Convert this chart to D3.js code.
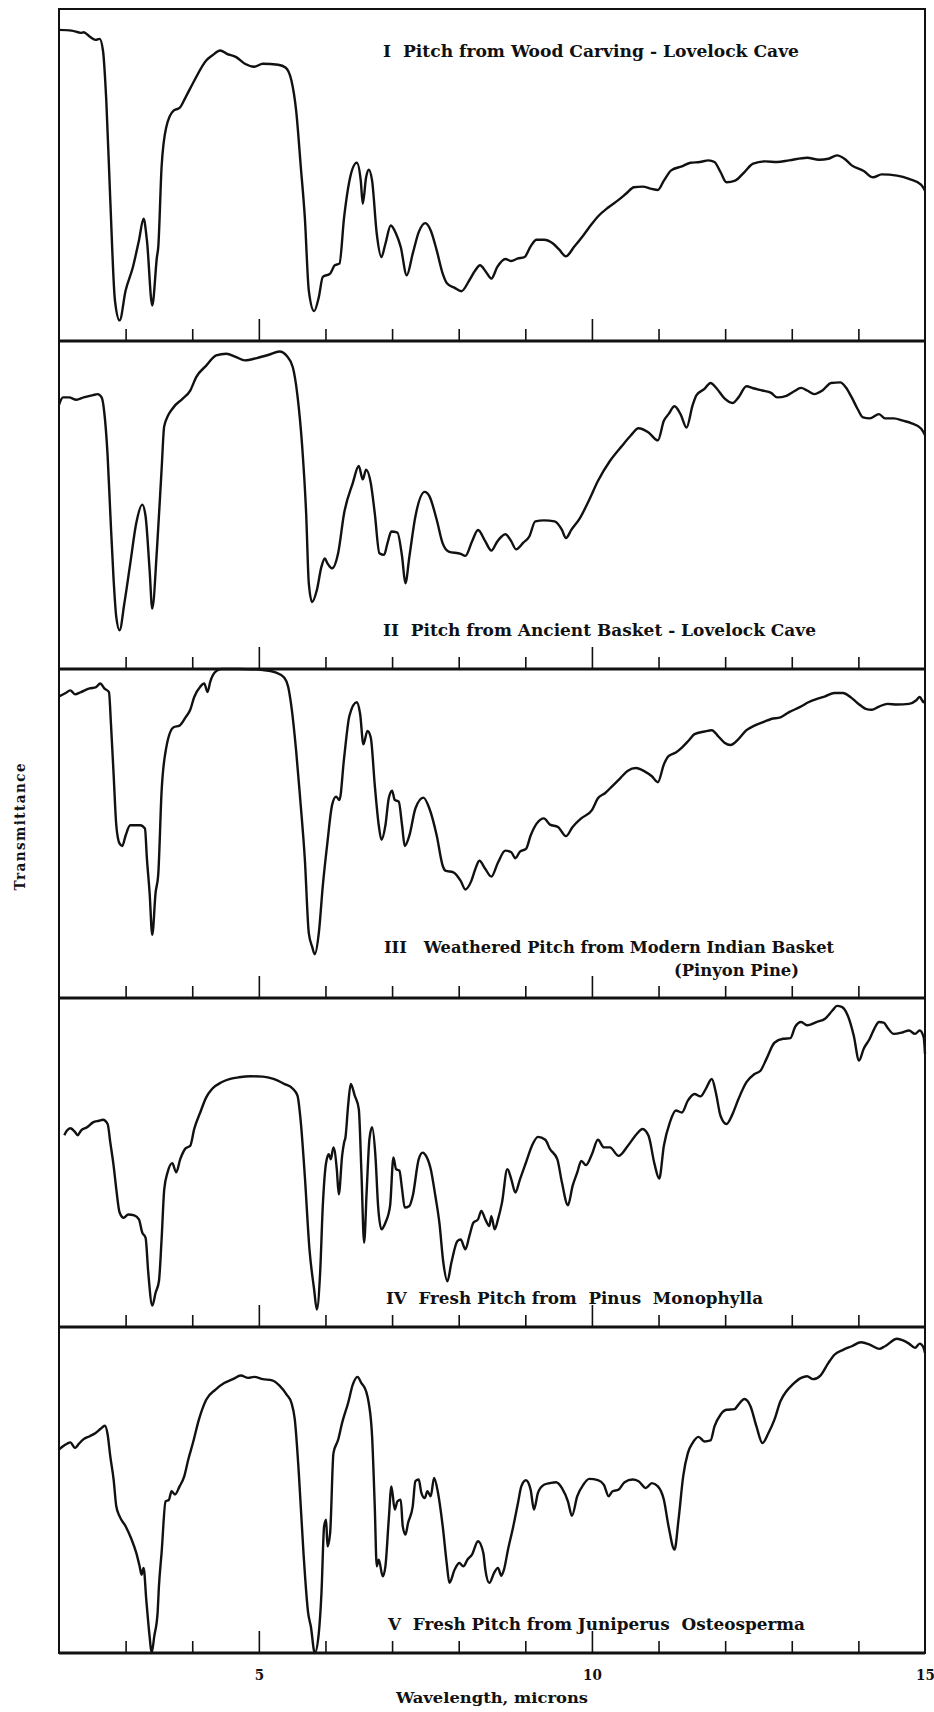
<!DOCTYPE html>
<html>
<head>
<script src="https://d3js.org/d3.v7.min.js"></script>
<style>
  body { margin: 0; background: #fff; }
  svg text {
    font-family: "DejaVu Serif Condensed", "DejaVu Serif", serif;
    font-weight: bold;
    fill: #111;
    white-space: pre;
  }
</style>
</head>
<body>
<div id="chart"></div>
<script>
// [wavelength (microns), transmittance (% of panel height)]
var spectrumI = [[2.0,93.7],[2.19,93.5],[2.33,92.8],[2.37,93.0],[2.46,91.7],[2.55,90.7],[2.61,91.0],[2.66,87.5],[2.71,72.4],[2.77,42.3],[2.84,12.2],[2.91,6.2],[3.0,15.2],[3.11,22.3],[3.2,30.3],[3.27,36.8],[3.32,30.3],[3.4,10.7],[3.47,25.3],[3.49,28.3],[3.54,52.4],[3.61,64.4],[3.72,69.4],[3.81,70.2],[3.9,73.4],[4.03,78.4],[4.21,84.5],[4.3,86.0],[4.42,87.5],[4.52,86.5],[4.66,85.5],[4.79,83.5],[4.93,82.6],[5.06,83.5],[5.29,83.2],[5.4,82.4],[5.49,78.4],[5.56,69.4],[5.63,52.4],[5.69,37.3],[5.75,15.2],[5.83,9.0],[5.9,13.2],[5.96,19.3],[6.07,20.3],[6.14,22.8],[6.21,23.3],[6.28,37.3],[6.36,48.3],[6.47,53.7],[6.53,48.3],[6.56,41.3],[6.61,49.3],[6.65,51.6],[6.7,48.3],[6.77,32.3],[6.84,25.3],[6.9,29.3],[6.98,34.8],[7.06,32.3],[7.13,28.3],[7.22,19.8],[7.31,26.3],[7.4,32.8],[7.5,35.5],[7.58,33.3],[7.67,27.3],[7.76,20.3],[7.82,17.5],[7.94,16.0],[8.04,15.0],[8.16,18.3],[8.25,21.3],[8.32,22.8],[8.41,20.8],[8.49,18.8],[8.58,22.3],[8.7,24.7],[8.79,24.1],[8.88,24.8],[8.99,25.3],[9.08,28.5],[9.17,30.5],[9.28,30.5],[9.42,29.3],[9.51,27.5],[9.61,25.5],[9.73,28.3],[9.87,31.8],[10.0,35.3],[10.09,37.5],[10.25,40.3],[10.4,42.5],[10.52,44.5],[10.63,46.3],[10.76,46.5],[10.9,45.8],[10.99,45.5],[11.08,48.3],[11.19,51.4],[11.35,52.6],[11.48,53.7],[11.62,53.9],[11.75,54.4],[11.84,53.9],[11.93,50.9],[12.02,47.8],[12.15,48.3],[12.29,50.9],[12.42,53.4],[12.6,54.1],[12.78,53.9],[12.96,54.4],[13.23,55.2],[13.41,54.6],[13.55,54.9],[13.68,55.9],[13.79,54.9],[13.9,52.9],[14.08,51.2],[14.22,49.3],[14.35,50.2],[14.58,49.8],[14.76,48.8],[14.94,47.1],[15.0,45.3]];

var spectrumII = [[2.0,80.5],[2.06,82.8],[2.15,82.8],[2.26,82.1],[2.37,82.8],[2.51,83.5],[2.58,83.8],[2.64,82.8],[2.68,78.2],[2.73,64.9],[2.77,47.5],[2.82,27.1],[2.86,15.8],[2.91,11.8],[2.98,19.9],[3.07,32.2],[3.16,44.5],[3.25,50.1],[3.3,46.5],[3.36,30.2],[3.4,18.4],[3.47,36.3],[3.54,60.8],[3.58,74.1],[3.72,79.8],[3.85,82.3],[3.97,84.9],[4.06,89.0],[4.21,92.5],[4.36,95.6],[4.51,96.1],[4.66,95.1],[4.79,94.1],[4.97,94.8],[5.15,95.8],[5.31,96.8],[5.42,95.4],[5.51,92.0],[5.58,83.3],[5.65,68.0],[5.71,47.5],[5.75,26.1],[5.8,20.4],[5.87,24.0],[5.94,31.2],[5.99,33.7],[6.03,32.2],[6.1,30.7],[6.19,35.3],[6.28,47.5],[6.41,56.7],[6.5,61.9],[6.56,57.8],[6.61,60.8],[6.68,56.7],[6.74,47.5],[6.81,35.3],[6.88,34.8],[6.93,38.3],[6.99,41.9],[7.08,41.6],[7.15,34.3],[7.2,26.1],[7.26,34.3],[7.35,46.5],[7.49,54.0],[7.56,52.7],[7.67,45.5],[7.76,38.3],[7.85,35.8],[8.03,35.1],[8.1,34.5],[8.2,38.9],[8.29,42.4],[8.4,38.9],[8.49,36.1],[8.58,38.9],[8.7,41.1],[8.79,38.9],[8.86,36.5],[8.97,38.5],[9.06,40.4],[9.15,45.0],[9.28,45.3],[9.44,45.0],[9.55,42.4],[9.61,39.9],[9.69,42.4],[9.82,46.0],[9.96,51.6],[10.09,57.3],[10.27,63.4],[10.45,68.0],[10.58,71.1],[10.7,73.4],[10.85,72.1],[10.99,69.7],[11.08,75.7],[11.15,77.7],[11.24,80.1],[11.33,77.7],[11.42,73.6],[11.51,80.3],[11.57,83.5],[11.69,85.4],[11.78,87.2],[11.87,85.6],[11.99,82.5],[12.11,81.1],[12.2,82.8],[12.32,86.2],[12.42,85.6],[12.56,84.9],[12.69,84.2],[12.78,82.8],[12.92,83.3],[13.03,84.6],[13.14,85.7],[13.23,84.9],[13.34,83.8],[13.46,84.9],[13.59,87.2],[13.73,87.4],[13.81,85.9],[13.9,82.8],[13.99,79.2],[14.07,76.7],[14.17,76.4],[14.31,77.7],[14.4,76.4],[14.53,76.4],[14.67,75.7],[14.8,74.9],[14.94,73.3],[15.0,71.3]];

var spectrumIII = [[2.0,91.7],[2.1,92.7],[2.17,93.5],[2.24,92.3],[2.33,93.0],[2.46,94.1],[2.55,94.4],[2.62,95.6],[2.68,94.1],[2.75,93.0],[2.78,83.3],[2.82,67.9],[2.86,52.5],[2.91,46.9],[2.95,46.2],[3.0,49.4],[3.07,52.5],[3.22,52.5],[3.29,51.5],[3.32,42.3],[3.36,32.0],[3.4,19.2],[3.45,32.0],[3.49,37.6],[3.54,62.8],[3.61,76.1],[3.72,82.3],[3.81,82.8],[3.9,85.3],[3.97,87.6],[4.03,91.5],[4.12,94.6],[4.18,95.6],[4.23,93.0],[4.27,96.1],[4.35,99.2],[4.44,100],[4.7,100],[5.06,99.7],[5.26,98.9],[5.38,97.4],[5.44,94.6],[5.49,88.4],[5.56,75.1],[5.62,60.7],[5.69,42.3],[5.75,19.7],[5.8,15.6],[5.84,13.3],[5.9,19.7],[5.96,34.1],[6.03,47.4],[6.1,58.7],[6.16,61.2],[6.21,60.2],[6.28,73.0],[6.36,85.8],[6.47,89.9],[6.52,86.4],[6.57,77.1],[6.63,81.2],[6.68,79.2],[6.74,64.8],[6.8,52.5],[6.84,48.1],[6.9,52.5],[6.95,60.7],[7.0,63.0],[7.04,60.2],[7.1,59.7],[7.15,52.5],[7.19,46.2],[7.26,49.4],[7.35,57.6],[7.47,60.9],[7.56,57.6],[7.67,49.4],[7.76,40.2],[7.8,38.7],[7.92,38.2],[8.03,35.6],[8.1,33.0],[8.19,35.6],[8.25,39.2],[8.31,41.7],[8.4,39.2],[8.49,36.9],[8.59,41.2],[8.7,44.8],[8.79,44.3],[8.85,42.5],[8.92,44.5],[9.01,45.3],[9.08,49.4],[9.17,53.0],[9.28,54.6],[9.37,52.7],[9.49,52.0],[9.61,49.2],[9.71,52.0],[9.84,54.6],[10.0,57.1],[10.09,60.7],[10.2,62.3],[10.31,64.5],[10.43,66.9],[10.54,69.1],[10.66,69.9],[10.79,68.9],[10.9,67.4],[10.99,65.6],[11.08,71.0],[11.15,73.5],[11.26,74.6],[11.35,76.1],[11.45,78.2],[11.54,80.2],[11.69,81.0],[11.8,81.4],[11.89,79.7],[11.99,77.6],[12.08,76.9],[12.2,78.7],[12.32,81.4],[12.44,82.8],[12.59,84.0],[12.69,84.8],[12.83,85.3],[12.96,86.9],[13.12,88.4],[13.25,89.9],[13.39,91.0],[13.5,91.7],[13.64,92.7],[13.77,92.7],[13.88,91.5],[13.99,89.6],[14.11,87.9],[14.2,87.6],[14.31,88.6],[14.44,89.4],[14.58,89.2],[14.76,89.4],[14.87,90.5],[14.92,91.5],[14.98,89.9],[15.0,90.5]];

var spectrumIV = [[2.08,58.3],[2.12,59.7],[2.17,60.4],[2.24,59.3],[2.28,58.3],[2.33,59.7],[2.42,60.7],[2.51,62.2],[2.6,62.7],[2.66,63.0],[2.73,61.7],[2.77,56.1],[2.82,49.0],[2.86,41.9],[2.91,34.8],[2.97,33.2],[3.04,34.2],[3.13,33.9],[3.2,32.7],[3.25,28.7],[3.3,27.1],[3.34,16.5],[3.4,6.5],[3.45,10.4],[3.5,13.9],[3.54,26.6],[3.58,41.9],[3.63,47.0],[3.7,49.8],[3.76,47.0],[3.82,51.0],[3.9,54.3],[3.97,55.1],[4.03,60.2],[4.12,65.2],[4.21,69.8],[4.3,72.4],[4.44,74.4],[4.57,75.4],[4.7,75.9],[4.88,76.2],[5.06,76.1],[5.22,75.4],[5.38,73.9],[5.51,72.4],[5.58,70.3],[5.63,62.2],[5.69,45.9],[5.76,23.6],[5.83,11.4],[5.87,5.3],[5.92,16.5],[5.96,36.8],[6.01,50.0],[6.05,52.5],[6.08,51.0],[6.12,54.6],[6.17,48.0],[6.2,40.3],[6.25,52.0],[6.28,56.1],[6.3,57.6],[6.34,67.3],[6.38,73.9],[6.44,70.3],[6.5,66.3],[6.54,47.0],[6.58,25.6],[6.62,41.9],[6.66,57.1],[6.7,60.7],[6.75,52.0],[6.79,36.8],[6.84,29.7],[6.9,31.7],[6.97,36.8],[7.02,51.5],[7.06,48.0],[7.11,47.5],[7.15,41.9],[7.19,36.3],[7.26,36.8],[7.31,39.8],[7.4,51.0],[7.46,53.0],[7.51,52.0],[7.58,48.0],[7.65,39.8],[7.71,31.7],[7.77,19.5],[7.83,13.9],[7.89,19.5],[7.98,26.1],[8.03,26.6],[8.1,23.6],[8.16,27.6],[8.22,31.7],[8.29,32.7],[8.34,35.3],[8.4,32.7],[8.46,30.7],[8.49,33.7],[8.54,29.7],[8.59,32.7],[8.65,37.8],[8.73,48.0],[8.79,44.9],[8.85,40.9],[8.92,44.9],[9.01,50.0],[9.1,55.1],[9.19,57.8],[9.3,56.9],[9.37,54.1],[9.48,51.0],[9.55,43.9],[9.64,37.0],[9.71,42.9],[9.78,47.0],[9.84,50.5],[9.91,49.2],[10.0,52.5],[10.09,56.9],[10.18,54.6],[10.27,54.6],[10.4,52.0],[10.54,55.1],[10.67,58.6],[10.76,60.2],[10.85,58.1],[10.94,49.5],[11.01,45.1],[11.08,55.1],[11.17,62.2],[11.26,65.8],[11.35,65.2],[11.44,68.8],[11.54,70.8],[11.63,70.1],[11.71,72.4],[11.8,75.4],[11.86,71.3],[11.93,64.2],[12.02,61.7],[12.11,64.7],[12.2,69.3],[12.32,74.4],[12.44,76.9],[12.53,77.9],[12.62,81.5],[12.74,86.4],[12.87,87.6],[12.98,87.8],[13.05,91.2],[13.14,92.7],[13.23,91.7],[13.37,92.7],[13.5,93.7],[13.61,96.2],[13.68,97.6],[13.75,97.3],[13.84,94.7],[13.93,88.6],[14.01,81.0],[14.08,84.6],[14.17,87.6],[14.24,90.7],[14.31,92.7],[14.38,92.5],[14.44,90.9],[14.53,89.1],[14.67,89.6],[14.76,90.1],[14.85,89.1],[14.92,90.1],[14.98,88.1],[15.0,83.0]];

var spectrumV = [[2.0,62.4],[2.06,63.4],[2.12,64.2],[2.17,64.6],[2.24,62.9],[2.3,64.2],[2.37,65.6],[2.46,66.5],[2.55,67.5],[2.62,68.7],[2.69,69.7],[2.73,67.0],[2.77,60.3],[2.82,53.2],[2.86,45.0],[2.91,41.9],[3.0,38.9],[3.09,34.8],[3.16,30.7],[3.21,26.6],[3.24,24.0],[3.27,26.1],[3.31,16.4],[3.36,5.1],[3.39,0],[3.43,5.1],[3.48,12.3],[3.5,20.4],[3.54,30.7],[3.6,46.5],[3.65,47.0],[3.69,49.6],[3.74,48.6],[3.81,51.1],[3.88,54.2],[3.94,59.3],[4.01,64.4],[4.1,71.6],[4.21,77.7],[4.35,80.8],[4.48,82.8],[4.61,84.0],[4.73,85.1],[4.84,84.4],[4.93,84.7],[5.06,84.0],[5.2,83.6],[5.31,82.0],[5.42,79.2],[5.49,76.7],[5.54,71.6],[5.6,55.2],[5.67,30.7],[5.74,12.3],[5.78,8.2],[5.84,0],[5.9,6.1],[5.94,18.4],[5.98,38.9],[6.01,40.9],[6.03,32.7],[6.07,36.8],[6.12,61.3],[6.19,65.4],[6.25,70.6],[6.34,76.7],[6.41,82.3],[6.48,84.7],[6.54,82.8],[6.61,80.3],[6.65,76.7],[6.7,66.5],[6.74,45.0],[6.77,26.6],[6.8,28.6],[6.86,23.5],[6.9,26.6],[6.95,40.9],[6.99,51.1],[7.04,44.0],[7.08,46.5],[7.13,47.0],[7.16,38.9],[7.2,36.3],[7.24,39.9],[7.31,45.0],[7.35,52.7],[7.4,53.2],[7.44,49.1],[7.49,47.5],[7.53,49.6],[7.58,48.1],[7.63,53.7],[7.69,49.1],[7.76,38.9],[7.82,27.6],[7.86,21.5],[7.94,25.6],[8.01,27.6],[8.07,26.6],[8.13,28.6],[8.2,30.2],[8.29,34.3],[8.37,30.7],[8.4,25.6],[8.46,21.5],[8.53,24.5],[8.59,26.1],[8.64,23.7],[8.68,25.6],[8.74,31.7],[8.82,38.9],[8.89,46.0],[8.94,51.1],[9.01,53.0],[9.08,50.1],[9.13,44.0],[9.19,49.1],[9.28,51.6],[9.37,52.1],[9.46,52.4],[9.55,50.6],[9.64,46.5],[9.7,42.1],[9.78,48.1],[9.87,51.6],[9.96,53.4],[10.09,53.0],[10.18,51.6],[10.25,48.1],[10.31,49.6],[10.4,50.1],[10.49,52.4],[10.61,53.2],[10.7,52.7],[10.81,50.6],[10.9,52.1],[10.99,51.1],[11.08,47.0],[11.15,38.9],[11.24,31.7],[11.3,40.9],[11.37,54.2],[11.44,61.3],[11.51,64.4],[11.6,66.3],[11.69,64.9],[11.78,65.2],[11.84,69.5],[11.93,73.1],[12.02,74.6],[12.14,74.8],[12.2,76.2],[12.29,77.9],[12.38,75.7],[12.47,69.5],[12.56,64.4],[12.65,67.5],[12.74,71.6],[12.83,77.2],[12.92,80.3],[13.01,82.3],[13.14,84.4],[13.23,84.9],[13.32,84.0],[13.43,85.1],[13.55,89.0],[13.64,91.5],[13.77,93.0],[13.9,94.1],[14.04,95.3],[14.17,94.6],[14.31,93.3],[14.4,94.1],[14.58,96.4],[14.67,95.9],[14.76,94.9],[14.85,93.6],[14.92,94.9],[14.98,93.6],[15.0,92.0]];

var spectra = [spectrumI, spectrumII, spectrumIII, spectrumIV, spectrumV];

var titles = [
  ["I  Pitch from Wood Carving - Lovelock Cave"],
  ["II  Pitch from Ancient Basket - Lovelock Cave"],
  ["III   Weathered Pitch from Modern Indian Basket", "(Pinyon Pine)"],
  ["IV  Fresh Pitch from  Pinus  Monophylla"],
  ["V  Fresh Pitch from Juniperus  Osteosperma"]
];

var minorTicks = [3, 4, 5, 6, 7, 8, 9, 10, 11, 12, 13, 14];
var majorTicks = [5, 10];
var tickLabels = [5, 10, 15];

// layout
var width = 934, height = 1712;
var panelEdges = [9, 341, 669, 998, 1327, 1653];
var titlePos = [
  [{x: 383, y: 57, w: 416}],
  [{x: 383, y: 636, w: 433}],
  [{x: 384, y: 953, w: 450}, {x: 674, y: 976, w: 125}],
  [{x: 386, y: 1304, w: 377}],
  [{x: 388, y: 1630, w: 417}]
];

var svg = d3.select("#chart").append("svg")
    .attr("width", width)
    .attr("height", height);

var x = d3.scaleLinear().domain([2, 15]).range([59, 925]);

spectra.forEach(function(data, i) {
    var y0 = panelEdges[i], y1 = panelEdges[i + 1];
    var y = d3.scaleLinear().domain([0, 100]).range([y1, y0]);

    var axis = d3.axisBottom(x)
        .tickValues(minorTicks)
        .tickSize(0)
        .tickFormat("");

    svg.append("g")
        .attr("transform", "translate(0," + y1 + ")")
        .call(axis)
        .call(function(g) { g.select(".domain").remove(); })
        .selectAll(".tick line")
        .attr("y2", function(d) { return majorTicks.indexOf(d) >= 0 ? -22 : -12; })
        .attr("stroke", "#111")
        .attr("stroke-width", 1.6);

    var line = d3.line()
        .x(function(d) { return x(d[0]); })
        .y(function(d) { return y(d[1]); })
        .curve(d3.curveMonotoneX);

    svg.append("path")
        .datum(data)
        .attr("d", line)
        .attr("fill", "none")
        .attr("stroke", "#111")
        .attr("stroke-width", 2.4)
        .attr("stroke-linejoin", "round");

    titles[i].forEach(function(t, j) {
        var p = titlePos[i][j];
        svg.append("text")
            .attr("x", p.x)
            .attr("y", p.y)
            .attr("textLength", p.w)
            .attr("lengthAdjust", "spacingAndGlyphs")
            .style("font-size", "16.5px")
            .text(t);
    });
});

// frame and dividers
svg.append("rect")
    .attr("x", x(2)).attr("y", panelEdges[0])
    .attr("width", x(15) - x(2)).attr("height", panelEdges[5] - panelEdges[0])
    .attr("fill", "none")
    .attr("stroke", "#111")
    .attr("stroke-width", 2);

svg.selectAll(".divider")
    .data(panelEdges.slice(1))
    .enter().append("line")
    .attr("class", "divider")
    .attr("x1", x(2)).attr("x2", x(15))
    .attr("y1", function(d) { return d; })
    .attr("y2", function(d) { return d; })
    .attr("stroke", "#111")
    .attr("stroke-width", 3);

// x labels
var labelAxis = d3.axisBottom(x)
    .tickValues(tickLabels)
    .tickSize(0)
    .tickPadding(16)
    .tickFormat(d3.format("d"));

svg.append("g")
    .attr("transform", "translate(0," + panelEdges[5] + ")")
    .call(labelAxis)
    .call(function(g) { g.select(".domain").remove(); })
    .selectAll("text")
    .style("font-size", "15px")
    .style("font-family", "'DejaVu Serif Condensed', serif")
    .style("font-weight", "bold")
    .attr("fill", "#111");

svg.append("text")
    .attr("x", (x(2) + x(15)) / 2)
    .attr("y", 1703)
    .attr("text-anchor", "middle")
    .attr("textLength", 192)
    .attr("lengthAdjust", "spacingAndGlyphs")
    .style("font-size", "15.5px")
    .text("Wavelength, microns");

svg.append("text")
    .attr("transform", "translate(25,827) rotate(-90)")
    .attr("text-anchor", "middle")
    .attr("textLength", 127)
    .attr("lengthAdjust", "spacing")
    .style("font-size", "15px")
    .text("Transmittance");
</script>
</body>
</html>
